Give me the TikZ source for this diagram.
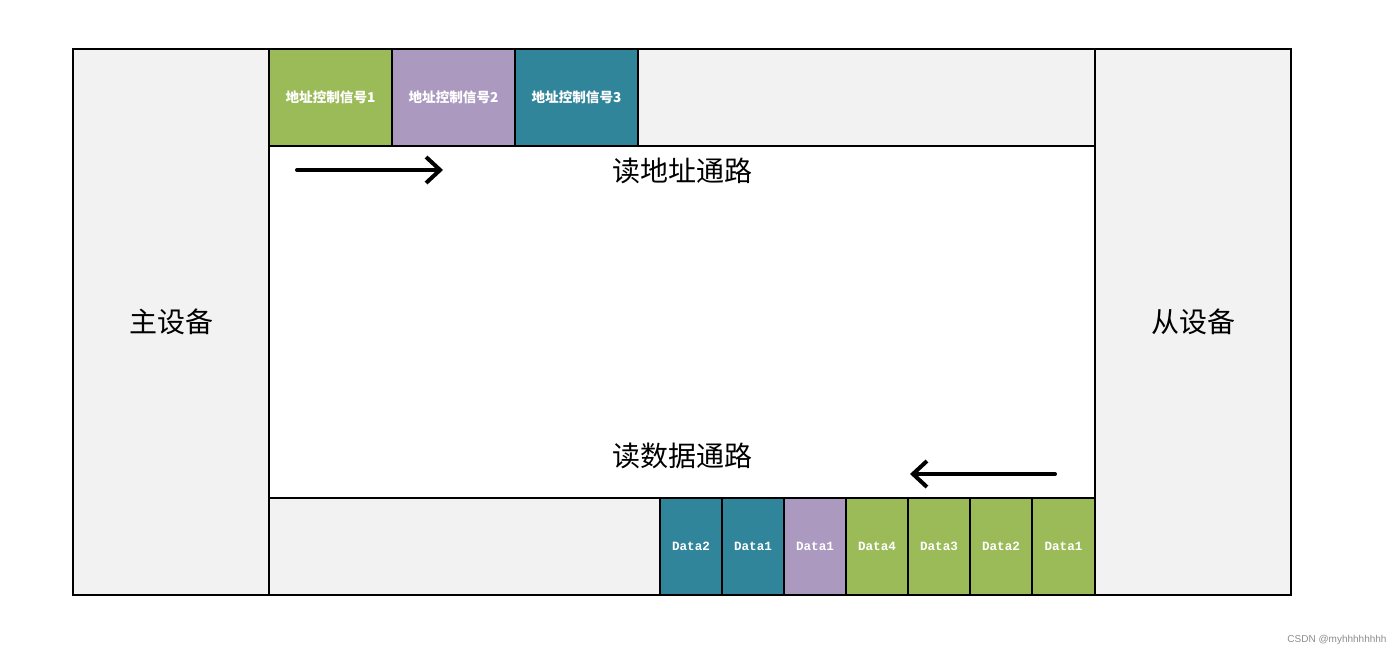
\documentclass[tikz,border=0pt]{standalone}
\usepackage{fontspec}
\newfontfamily\cjk{Noto Sans CJK SC}
\newfontfamily\datafont{Liberation Mono}
\newfontfamily\markfont{Liberation Sans}
\usetikzlibrary{arrows.meta}
\definecolor{panelgray}{RGB}{242,242,242}
\definecolor{sig1col}{RGB}{155,187,89}
\definecolor{sig2col}{RGB}{171,153,192}
\definecolor{sig3col}{RGB}{49,133,155}

\begin{document}
\begin{tikzpicture}[
    x=0.5pt, y=-0.5pt,
    panel/.style={draw, line width=0.8pt, fill=panelgray, inner sep=0pt,
                  minimum width=98pt, minimum height=273pt,
                  font=\cjk\fontsize{14}{16}\selectfont},
    sigbox/.style={draw, line width=0.9pt, inner sep=0pt,
                   minimum width=61.5pt, minimum height=48.5pt, text=white,
                   font=\cjk\bfseries\fontsize{6.8}{8}\selectfont},
    datbox/.style={draw, line width=0.9pt, inner sep=0pt,
                   minimum width=31pt, minimum height=48.5pt, text=white,
                   font=\datafont\bfseries\fontsize{6.3}{7}\selectfont},
    flow/.style={-{Straight Barb[length=7pt, width=13pt]}, line width=2pt,
                 line cap=round},
    title/.style={font=\cjk\fontsize{14}{16}\selectfont},
]

\path[use as bounding box] (0,0) rectangle (1400,653);

% channel bands
\fill[white] (269,146) rectangle (1095,498);
\draw[line width=0.8pt, fill=panelgray] (269,49) rectangle (1095,146);
\draw[line width=0.8pt, fill=panelgray] (269,498) rectangle (1095,595);

% master / slave
\node[panel] (master) at (171,322) {主设备};
\node[panel] (slave) at (1193,322) {从设备};

% read address channel
\node[sigbox, fill=sig1col] (a1) at (330.5,97.5) {地址控制信号1};
\node[sigbox, fill=sig2col] (a2) at (453.5,97.5) {地址控制信号2};
\node[sigbox, fill=sig3col] (a3) at (576.5,97.5) {地址控制信号3};

\node[title] (araddr) at (682,171) {读地址通路};
\coordinate (af) at (297,170);
\coordinate (at) at (443,170);
\draw[flow] (af) -- (at);

% read data channel
\foreach \name/\x/\col/\txt in {
    d1/691/sig3col/Data2, d2/753/sig3col/Data1, d3/815/sig2col/Data1,
    d4/877/sig1col/Data4, d5/939/sig1col/Data3, d6/1001/sig1col/Data2,
    d7/1063.5/sig1col/Data1}{
    \node[datbox, fill=\col] (\name) at (\x,546.5) {\txt};
}

\node[title] (rdata) at (682,456) {读数据通路};
\coordinate (rf) at (1055,474);
\coordinate (rt) at (910,474);
\draw[flow] (rf) -- (rt);

\node[text=black!45, font=\markfont\fontsize{5}{6}\selectfont] (mark)
    at (1337,640) {CSDN @myhhhhhhhh};

\end{tikzpicture}
\end{document}
